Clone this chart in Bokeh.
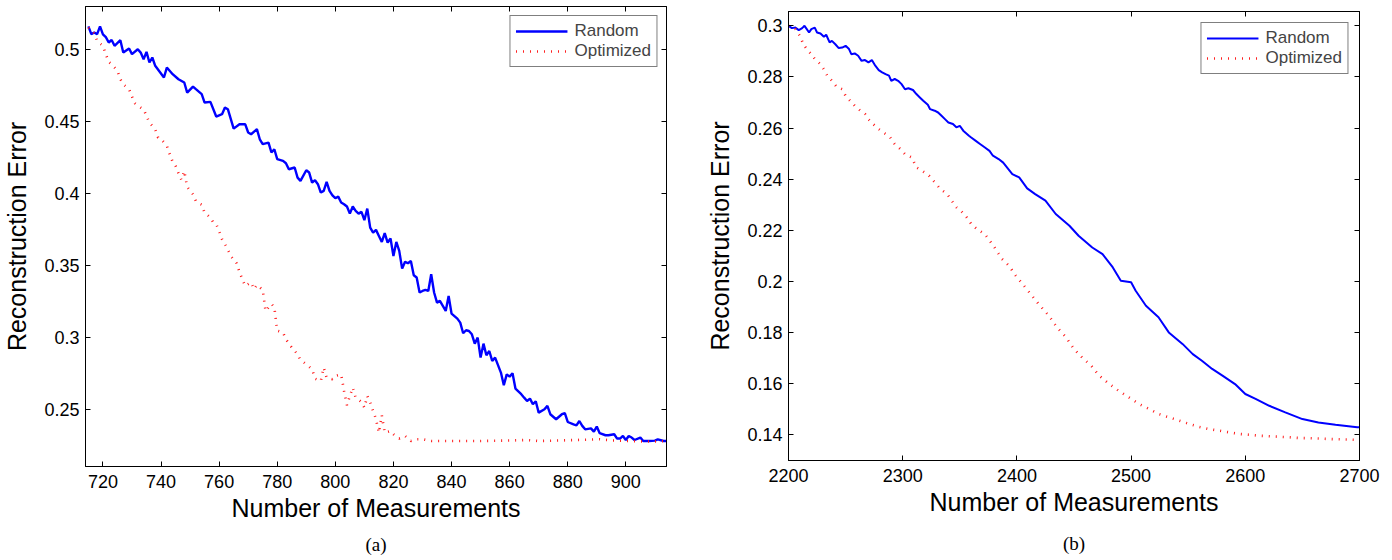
from bokeh.plotting import figure
from bokeh.layouts import row, column
from bokeh.models import (Range1d, FixedTicker, LinearAxis, CustomJSTickFormatter,
                          Title, Legend, LegendItem)
from bokeh.embed import file_html
from bokeh.resources import INLINE

# ---------------- data: panel (a) ----------------
a_random_x = [715, 716, 717, 718, 719, 720, 721, 722, 723, 724, 726, 727, 729, 730, 732, 733, 734,
              735, 736, 737, 738, 741, 742, 744, 746, 748, 749, 751, 752, 754, 755, 757, 759, 761,
              762, 763, 765, 767, 769, 770, 771, 773, 774, 775, 777, 778, 779, 780, 782, 783, 784,
              786, 787, 788, 790, 791, 792, 793, 794, 795, 796, 797, 798, 799, 800, 801, 802, 803,
              804, 805, 806, 807, 808, 809, 810, 811, 812, 813, 814, 815, 816, 817, 818, 819, 820,
              821, 822, 823, 824, 825, 826, 827, 828, 829, 830, 831, 832, 833, 834, 835, 836, 837,
              838, 839, 840, 842, 843, 844, 845, 846, 847, 848, 849, 850, 851, 852, 853, 854, 855,
              857, 858, 859, 860, 861, 862, 864, 865, 866, 867, 868, 869, 870, 872, 873, 874, 876,
              878, 879, 880, 882, 883, 884, 885, 886, 888, 889, 890, 891, 893, 894, 896, 897, 898,
              899, 900, 901, 902, 903, 905, 906, 908, 910, 911, 913, 914]
a_random_y = [0.5160, 0.5106, 0.5117, 0.5106, 0.5160, 0.5105, 0.5085, 0.5048, 0.5066, 0.5025,
              0.5064, 0.4978, 0.5006, 0.4967, 0.5001, 0.4978, 0.4932, 0.4983, 0.4909, 0.4944,
              0.4886, 0.4805, 0.4874, 0.4828, 0.4793, 0.4770, 0.4700, 0.4742, 0.4724, 0.4689,
              0.4631, 0.4636, 0.4534, 0.4550, 0.4596, 0.4585, 0.4450, 0.4480, 0.4480, 0.4423,
              0.4411, 0.4446, 0.4376, 0.4342, 0.4353, 0.4284, 0.4307, 0.4238, 0.4226, 0.4210,
              0.4168, 0.4180, 0.4110, 0.4087, 0.4161, 0.4145, 0.4075, 0.4092, 0.4064, 0.4006,
              0.4018, 0.4080, 0.4018, 0.3987, 0.3967, 0.3978, 0.3937, 0.3925, 0.3909, 0.3860,
              0.3909, 0.3879, 0.3860, 0.3872, 0.3814, 0.3895, 0.3763, 0.3728, 0.3747, 0.3705,
              0.3663, 0.3724, 0.3659, 0.3687, 0.3566, 0.3663, 0.3601, 0.3478, 0.3525, 0.3515,
              0.3531, 0.3432, 0.3416, 0.3312, 0.3323, 0.3330, 0.3323, 0.3439, 0.3312, 0.3242,
              0.3254, 0.3219, 0.3184, 0.3288, 0.3166, 0.3131, 0.3103, 0.3029, 0.3050, 0.3045,
              0.3022, 0.2957, 0.2999, 0.2860, 0.2957, 0.2876, 0.2906, 0.2837, 0.2860, 0.2756,
              0.2668, 0.2744, 0.2728, 0.2751, 0.2645, 0.2606, 0.2582, 0.2559, 0.2575, 0.2536,
              0.2557, 0.2478, 0.2501, 0.2525, 0.2467, 0.2432, 0.2467, 0.2474, 0.2413, 0.2397,
              0.2390, 0.2420, 0.2386, 0.2362, 0.2369, 0.2346, 0.2381, 0.2335, 0.2321, 0.2321,
              0.2328, 0.2298, 0.2298, 0.2316, 0.2288, 0.2316, 0.2305, 0.2288, 0.2305, 0.2281,
              0.2281, 0.2284, 0.2293, 0.2281, 0.2281]

a_opt_x = [715, 717, 718, 720, 721, 722, 723, 725, 726, 727, 729, 730, 731, 733, 734, 735, 736,
           738, 739, 740, 742, 743, 744, 745, 746, 747, 748, 749, 751, 752, 753, 754, 755, 757,
           758, 759, 760, 761, 763, 764, 766, 767, 768, 769, 771, 772, 773, 775, 776, 778, 779,
           780, 782, 783, 785, 787, 788, 790, 792, 793, 795, 796, 797, 799, 800, 802, 803, 804,
           805, 806, 807, 809, 810, 811, 812, 813, 814, 815, 816, 817, 819, 820, 822, 824, 826,
           828, 830, 833, 840, 850, 861, 866, 870, 883, 891, 895, 905, 910, 914]
a_opt_y = [0.5152, 0.5113, 0.5059, 0.5024, 0.4967, 0.4913, 0.4897, 0.4851, 0.4793, 0.4758,
           0.4724, 0.4673, 0.4626, 0.4596, 0.4585, 0.4538, 0.4492, 0.4446, 0.4388, 0.4378,
           0.4330, 0.4272, 0.4219, 0.4191, 0.4140, 0.4095, 0.4156, 0.4045, 0.3994, 0.3948,
           0.3932, 0.3922, 0.3867, 0.3833, 0.3798, 0.3786, 0.3740, 0.3682, 0.3612, 0.3566,
           0.3515, 0.3455, 0.3404, 0.3358, 0.3383, 0.3335, 0.3365, 0.3330, 0.3183, 0.3233,
           0.3210, 0.3047, 0.3034, 0.2987, 0.2930, 0.2883, 0.2844, 0.2814, 0.2779, 0.2714,
           0.2698, 0.2791, 0.2721, 0.2710, 0.2733, 0.2744, 0.2629, 0.2529, 0.2594, 0.2652,
           0.2582, 0.2552, 0.2513, 0.2594, 0.2548, 0.2490, 0.2432, 0.2339, 0.2460, 0.2339,
           0.2351, 0.2328, 0.2298, 0.2316, 0.2281, 0.2293, 0.2293, 0.2281, 0.2281, 0.2281,
           0.2285, 0.2288, 0.2281, 0.2288, 0.2293, 0.2285, 0.2278, 0.2278, 0.2281]

a_xticks = [720, 740, 760, 780, 800, 820, 840, 860, 880, 900]
a_yticks = [0.25, 0.3, 0.35, 0.4, 0.45, 0.5]

# ---------------- data: panel (b) ----------------
b_random_x = [2200, 2203, 2206, 2209, 2212, 2214, 2216, 2218, 2220, 2223, 2225, 2228, 2231, 2233,
              2236, 2238, 2241, 2244, 2247, 2250, 2253, 2255, 2258, 2261, 2264, 2267, 2270, 2273,
              2276, 2279, 2282, 2285, 2288, 2290, 2293, 2296, 2299, 2302, 2305, 2309, 2312, 2315,
              2318, 2322, 2324, 2328, 2331, 2334, 2337, 2340, 2344, 2347, 2350, 2353, 2358, 2360,
              2364, 2368, 2372, 2376, 2379, 2384, 2388, 2396, 2402, 2409, 2416, 2425, 2434, 2446,
              2454, 2466, 2475, 2484, 2491, 2500, 2504, 2513, 2524, 2533, 2545, 2554, 2562, 2571,
              2580, 2591, 2600, 2609, 2621, 2635, 2650, 2664, 2679, 2698, 2700]
b_random_y = [0.3000, 0.2991, 0.2993, 0.2983, 0.2991, 0.3000, 0.2987, 0.2974, 0.2987, 0.2993,
              0.2974, 0.2970, 0.2957, 0.2965, 0.2935, 0.2941, 0.2928, 0.2913, 0.2915, 0.2922,
              0.2909, 0.2889, 0.2892, 0.2883, 0.2863, 0.2866, 0.2857, 0.2866, 0.2844, 0.2827,
              0.2818, 0.2811, 0.2805, 0.2785, 0.2792, 0.2785, 0.2772, 0.2752, 0.2756, 0.2749,
              0.2733, 0.2720, 0.2707, 0.2691, 0.2674, 0.2668, 0.2661, 0.2648, 0.2635, 0.2622,
              0.2616, 0.2603, 0.2609, 0.2590, 0.2570, 0.2563, 0.2550, 0.2537, 0.2524, 0.2511,
              0.2492, 0.2479, 0.2465, 0.2420, 0.2407, 0.2364, 0.2342, 0.2316, 0.2264, 0.2218,
              0.2179, 0.2133, 0.2107, 0.2055, 0.2003, 0.1997, 0.1964, 0.1905, 0.1860, 0.1801,
              0.1756, 0.1716, 0.1690, 0.1658, 0.1632, 0.1599, 0.1560, 0.1541, 0.1514, 0.1488,
              0.1462, 0.1449, 0.1440, 0.1430, 0.1430]

b_opt_x = [2200, 2206, 2210, 2213, 2216, 2220, 2223, 2228, 2231, 2234, 2238, 2242, 2247, 2250,
           2254, 2258, 2263, 2267, 2270, 2274, 2279, 2285, 2289, 2293, 2298, 2302, 2308, 2312,
           2317, 2323, 2328, 2333, 2339, 2343, 2347, 2352, 2356, 2360, 2365, 2372, 2380, 2387,
           2393, 2399, 2405, 2412, 2419, 2428, 2435, 2443, 2450, 2457, 2465, 2472, 2481, 2489,
           2498, 2507, 2516, 2524, 2533, 2542, 2551, 2559, 2568, 2577, 2586, 2594, 2603, 2612,
           2621, 2629, 2638, 2647, 2656, 2664, 2673, 2682, 2691, 2696]
b_opt_y = [0.3000, 0.2987, 0.2961, 0.2928, 0.2909, 0.2889, 0.2870, 0.2850, 0.2830, 0.2805,
           0.2785, 0.2762, 0.2752, 0.2726, 0.2707, 0.2687, 0.2668, 0.2655, 0.2635, 0.2616,
           0.2596, 0.2577, 0.2564, 0.2538, 0.2518, 0.2498, 0.2485, 0.2446, 0.2433, 0.2414,
           0.2388, 0.2362, 0.2342, 0.2316, 0.2290, 0.2271, 0.2251, 0.2225, 0.2205, 0.2185,
           0.2136, 0.2088, 0.2062, 0.2023, 0.1990, 0.1951, 0.1912, 0.1866, 0.1821, 0.1782,
           0.1736, 0.1703, 0.1671, 0.1632, 0.1599, 0.1573, 0.1547, 0.1521, 0.1501, 0.1482,
           0.1469, 0.1456, 0.1443, 0.1432, 0.1423, 0.1417, 0.1410, 0.1404, 0.1401, 0.1397,
           0.1395, 0.1393, 0.1391, 0.1388, 0.1387, 0.1386, 0.1384, 0.1383, 0.1382, 0.1381]

b_xticks = [2200, 2300, 2400, 2500, 2600, 2700]
b_yticks = [0.14, 0.16, 0.18, 0.2, 0.22, 0.24, 0.26, 0.28, 0.3]

series_labels = ["Random", "Optimized"]
x_title = "Number of Measurements"
y_title = "Reconstruction Error"
captions = ["(a)", "(b)"]

SANS = "Liberation Sans"
SERIF = "Liberation Serif"
BLUE = "#0000ff"
RED = "#ff1a1a"


def style_axis(ax, labelled):
    ax.major_tick_in = 5
    ax.major_tick_out = 0
    ax.minor_tick_line_color = None
    ax.axis_line_color = "black"
    ax.major_tick_line_color = "black"
    ax.major_label_text_color = "black"
    ax.major_label_text_font = SANS
    if labelled:
        ax.major_label_text_font_size = "18px"
        ax.axis_label_text_font = SANS
        ax.axis_label_text_font_size = "25px"
        ax.axis_label_text_font_style = "normal"
        ax.axis_label_text_color = "black"
    else:
        ax.major_label_text_font_size = "0px"
        ax.major_label_standoff = 0
        ax.formatter = CustomJSTickFormatter(code="return '';")


def make_panel(xr, yr, xt, yt, rx, ry, ox, oy, fw, fh, borders, caption, lw, rw,
               leg_margin, cap_standoff):
    left, right, top, bottom = borders
    p = figure(frame_width=fw, frame_height=fh, x_range=Range1d(*xr), y_range=Range1d(*yr),
               output_backend="svg", toolbar_location=None,
               min_border_left=left, min_border_right=right,
               min_border_top=top, min_border_bottom=bottom)
    p.grid.visible = False
    p.outline_line_color = "black"
    p.outline_line_alpha = 1.0
    p.background_fill_color = "white"
    p.border_fill_color = "white"

    fmt = CustomJSTickFormatter(code="return String(Math.round(tick * 10000) / 10000);")
    p.xaxis.ticker = FixedTicker(ticks=xt)
    p.yaxis.ticker = FixedTicker(ticks=yt)
    p.xaxis.formatter = fmt
    p.yaxis.formatter = fmt
    p.xaxis.axis_label = x_title
    p.yaxis.axis_label = y_title
    for ax in p.xaxis + p.yaxis:
        style_axis(ax, True)
    p.xaxis.major_label_standoff = 8
    p.xaxis.axis_label_standoff = 3
    p.yaxis.major_label_standoff = 6
    p.yaxis.axis_label_standoff = 10

    top_ax = LinearAxis(ticker=FixedTicker(ticks=xt))
    right_ax = LinearAxis(ticker=FixedTicker(ticks=yt))
    style_axis(top_ax, False)
    style_axis(right_ax, False)
    p.add_layout(top_ax, "above")
    p.add_layout(right_ax, "right")

    r1 = p.line(rx, ry, line_color=BLUE, line_width=lw)
    r2 = p.line(ox, oy, line_color=RED, line_width=rw, line_dash="1 6")

    legend = Legend(items=[LegendItem(label=series_labels[0], renderers=[r1]),
                           LegendItem(label=series_labels[1], renderers=[r2])],
                    location="top_right", glyph_width=52, glyph_height=20,
                    label_height=20, label_text_font=SANS, label_text_font_size="17px",
                    label_standoff=7, padding=5, spacing=0, margin=leg_margin,
                    border_line_color="black", border_line_width=1,
                    background_fill_color="white", background_fill_alpha=1.0)
    p.add_layout(legend)

    cap = Title(text=caption, align="center", text_font=SERIF, text_font_size="19px",
                text_font_style="normal", text_color="black", offset=15,
                standoff=cap_standoff)
    p.add_layout(cap, "below")
    return p


p1 = make_panel((714, 914), (0.2104, 0.5298), a_xticks, a_yticks,
                a_random_x, a_random_y, a_opt_x, a_opt_y,
                581, 460, (75, 36, 6, 0), captions[0], 2.4, 2.6, 9, 14)
p2 = make_panel((2200, 2700), (0.1300, 0.3056), b_xticks, b_yticks,
                b_random_x, b_random_y, b_opt_x, b_opt_y,
                571, 449, (86, 26, 11, 0), captions[1], 2.0, 2.6, 11, 25)

layout = row(column(p1), column(p2))
open("out.html", "w").write(file_html(layout, INLINE))
